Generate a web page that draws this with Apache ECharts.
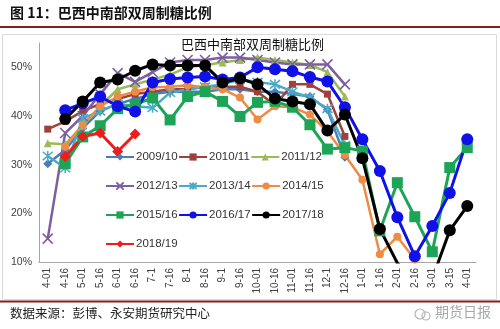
<!DOCTYPE html>
<html>
<head>
<meta charset="utf-8">
<script src="https://cdn.jsdelivr.net/npm/echarts@6/dist/echarts.min.js"></script>
<style>
html,body{margin:0;padding:0;background:#fff;}
#c{width:500px;height:329px;}
</style>
</head>
<body>
<div id="c"></div>
<script>
const categories = ['4-01','4-16','5-01','5-16','6-01','6-16','7-1','7-16','8-1','8-16','9-1','9-16','10-01','10-16','11-01','11-16','12-1','12-16','1-01','1-16','2-01','2-16','3-01','3-15','4-01'];
const yTicks = [10, 20, 30, 40, 50];

const s2009 = [30.2, 33.0, 37.5, 41.0, 42.5, 43.5, 44.5, 45.0, 45.0, 45.0, 45.5, 45.5, 45.0, 45.0, 44.5, 44.0, 41.3, 31.5];
const s2010 = [37.3, 38.9, 41.0, 42.5, 43.5, 44.5, 45.0, 45.5, 45.5, 46.0, 46.0, 46.0, 45.0, 42.2, 46.5, 46.5, 44.5, 35.8];
const s2011 = [34.4, 34.2, 38.0, 42.0, 45.5, 46.5, 47.5, 48.5, 50.0, 50.5, 51.0, 51.5, 52.0, 51.5, 51.0, 50.5, 49.0, 44.0];
const s2012 = [14.8, 36.5, 40.0, 44.5, 48.8, 47.0, 49.0, 51.0, 51.5, 51.5, 52.0, 52.0, 51.5, 51.0, 50.6, 50.6, 50.6, 46.5];
const s2013 = [31.8, 29.3, 39.5, 41.0, 42.5, 42.0, 41.7, 44.8, 45.5, 46.0, 46.5, 47.5, 47.0, 46.5, 45.0, 43.8, 41.5, 34.0];
const s2014 = [null, 33.7, 38.2, 42.0, 44.0, 45.0, 45.9, 46.0, 46.3, 45.9, 45.5, 43.8, 39.3, 42.0, 41.8, 40.3, 36.8, 32.0, 26.9, 11.6, 15.2, 10.5];
const s2015 = [null, 30.2, 35.7, 38.0, 41.5, 42.4, 43.7, 39.2, 44.0, 45.0, 43.0, 39.9, 42.8, 43.0, 41.8, 38.2, 33.2, 33.5, 32.8, 16.4, 26.3, 19.3, 12.1, 29.4, 33.5];
const s2016 = [null, 41.2, 42.6, 44.0, 42.0, 40.9, 46.9, 47.6, 47.9, 48.1, 47.5, 47.9, 50.0, 49.6, 49.2, 48.0, 47.1, 41.8, 35.2, 28.7, 19.2, 11.2, 17.4, 24.2, 35.2];
const s2017 = [null, 39.4, 43.0, 46.9, 47.5, 49.3, 50.6, 50.4, 50.4, 50.4, 46.9, 47.7, 46.5, 43.6, 43.0, 42.4, 37.0, 40.3, 31.3, 16.8, 9.8, 6.0, 6.6, 16.5, 21.5];
const s2018 = [null, 31.7, 35.8, 36.5, 32.7, 36.3];

const seriesNames = ['2009/10','2010/11','2011/12','2012/13','2013/14','2014/15','2015/16','2016/17','2017/18','2018/19'];
const seriesData = [s2009, s2010, s2011, s2012, s2013, s2014, s2015, s2016, s2017, s2018];

const styles = [
  {color:'#4A7EBB', symbol:'diamond', size:9, width:2.5},
  {color:'#A0403D', symbol:'rect', size:7, width:2.5},
  {color:'#9BBB59', symbol:'triangle', size:8, width:2.5},
  {color:'#7D5FA0', symbol:'path://M0,0L10,10M10,0L0,10', size:10, width:2.5, stroke:true},
  {color:'#4BACC6', symbol:'path://M0,0L10,10M10,0L0,10M5,-1L5,11', size:10, width:2.5, stroke:true},
  {color:'#EE8B45', symbol:'circle', size:8, width:2.5},
  {color:'#1DA557', symbol:'rect', size:11, width:3},
  {color:'#1010E8', symbol:'circle', size:12, width:3},
  {color:'#000000', symbol:'circle', size:12, width:3},
  {color:'#EE1C1C', symbol:'diamond', size:11, width:3}
];

const FONT = '"Liberation Sans", Arial, sans-serif';
const CJK = '"Noto Sans CJK SC", sans-serif';

const series = seriesNames.map((n, i) => {
  const st = styles[i];
  return {
    name: n,
    type: 'line',
    data: seriesData[i],
    symbol: st.symbol,
    symbolSize: st.size,
    showAllSymbol: true,
    clip: true,
    connectNulls: false,
    lineStyle: {color: st.color, width: st.width},
    itemStyle: st.stroke ? {color: st.color, borderColor: st.color, borderWidth: 1.6} : {color: st.color, borderColor: st.color, borderWidth: 0},
    emphasis: {disabled: true},
    animation: false
  };
});

const legendRows = [
  ['2009/10','2010/11','2011/12'],
  ['2012/13','2013/14','2014/15'],
  ['2015/16','2016/17','2017/18'],
  ['2018/19']
];
const legendTops = [151, 180, 209, 238];
const legends = legendRows.map((row, r) => ({
  data: row,
  left: 105,
  top: legendTops[r],
  orient: 'horizontal',
  padding: 0,
  itemGap: 0.5,
  itemWidth: 28,
  itemHeight: 9,
  selectedMode: false,
  textStyle: {fontFamily: FONT, fontSize: 11.5, color: '#333', width: 39, padding: [0,0,0,-3]}
}));

const chart = echarts.init(document.getElementById('c'), null, {renderer: 'canvas'});
chart.setOption({
  animation: false,
  backgroundColor: '#fff',
  title: {
    text: '巴西中南部双周制糖比例',
    left: 181,
    top: 38,
    padding: 0,
    textStyle: {fontFamily: CJK, fontSize: 13, fontWeight: 'normal', color: '#111'}
  },
  legend: legends,
  grid: {left: 39, right: 24, top: 43, bottom: 67, containLabel: false},
  xAxis: {
    type: 'category',
    data: categories,
    boundaryGap: true,
    axisLine: {show: true, lineStyle: {color: '#A6A6A6', width: 1}},
    axisTick: {show: false},
    axisLabel: {interval: 0, rotate: 90, fontFamily: FONT, fontSize: 10, color: '#404040', margin: 6}
  },
  yAxis: {
    type: 'value',
    min: 10,
    max: 55,
    interval: 10,
    splitLine: {show: false},
    axisLine: {show: true, lineStyle: {color: '#A6A6A6', width: 1}},
    axisTick: {show: false},
    axisLabel: {
      fontFamily: FONT, fontSize: 10.5, color: '#404040', margin: 7,
      formatter: v => (yTicks.indexOf(v) >= 0 ? v + '%' : '')
    }
  },
  series: series,
  graphic: [
    {type: 'text', left: 10, top: 6, style: {text: '图 11：巴西中南部双周制糖比例', font: 'bold 14px "Noto Sans CJK SC", sans-serif', fill: '#111'}},
    {type: 'rect', shape: {x: 0, y: 26, width: 500, height: 2}, style: {fill: '#8B1A1A'}},
    {type: 'rect', shape: {x: 2.5, y: 34.5, width: 494, height: 265}, style: {fill: 'none', stroke: '#DADADA', lineWidth: 1}},
    {type: 'rect', shape: {x: 0, y: 300.5, width: 500, height: 2}, style: {fill: '#8B1A1A'}},
    {type: 'text', left: 10, top: 307, style: {text: '数据来源：彭博、永安期货研究中心', font: '12.5px "Noto Sans CJK SC", sans-serif', fill: '#222'}},
    {type: 'circle', shape: {cx: 420, cy: 314, r: 5}, style: {fill: 'none', stroke: '#B5B5B5', lineWidth: 1.2}},
    {type: 'circle', shape: {cx: 426, cy: 316, r: 4}, style: {fill: 'none', stroke: '#B5B5B5', lineWidth: 1.2}},
    {type: 'text', left: 435, top: 305, style: {text: '期货日报', font: '14px "Noto Sans CJK SC", sans-serif', fill: '#A8A8A8'}}
  ]
});
</script>
</body>
</html>
